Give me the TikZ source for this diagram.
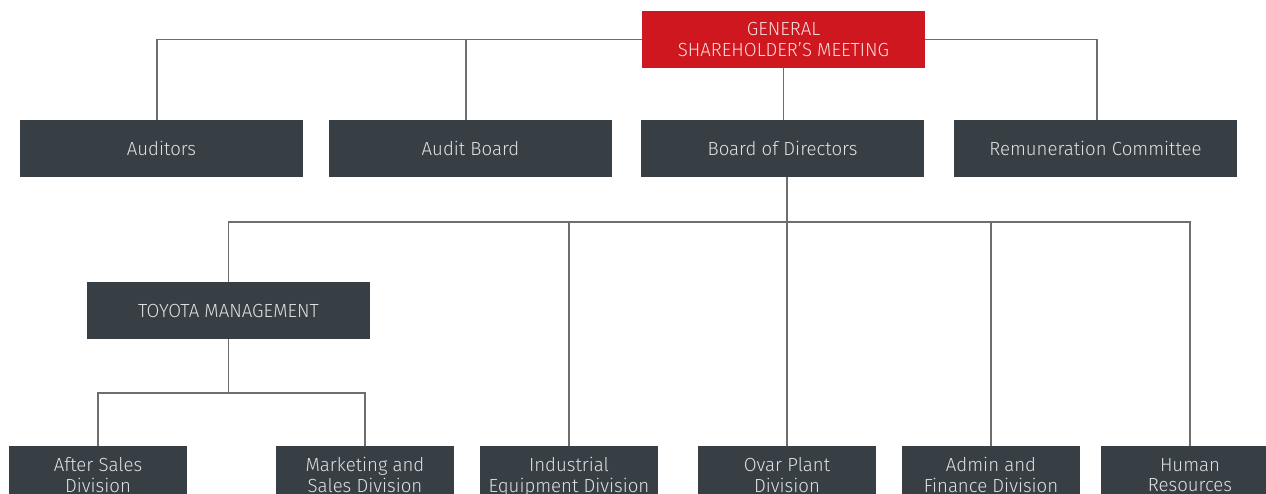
\documentclass[tikz,border=0pt]{standalone}
\usepackage{fontspec}
\setmainfont{Fira Sans}[UprightFont=* Light, FakeStretch=0.98]
\begin{document}
\definecolor{gsmred}{HTML}{CE171E}
\definecolor{boxgrey}{HTML}{373F45}
\definecolor{linegrey}{HTML}{6E6E6E}
\definecolor{boxtext}{HTML}{DDE1E3}
\definecolor{redtext}{HTML}{F8DCDC}
\begin{tikzpicture}[x=1pt,y=-1pt,
  orgbox/.style={fill=boxgrey,text=boxtext,inner sep=0pt,minimum width=283pt,minimum height=57pt,
    font=\fontsize{19}{19.5}\selectfont,align=center},
  divbox/.style={orgbox,minimum width=178pt,minimum height=56pt},
  topbox/.style={orgbox,fill=gsmred,text=redtext},
  link/.style={draw=linegrey,line width=1.7pt}]
\useasboundingbox (0,0) rectangle (1266,494);
\clip (0,0) rectangle (1266,494);

% governance level
\node[topbox] (gsm) at (783.5,39.5) {};
\node[text=redtext,font=\fontsize{19}{19.5}\selectfont,align=center,inner sep=0pt] (gsmlabel)
  at (783.5,42.5) {GENERAL\strut\\SHAREHOLDER'S MEETING\strut};
\node[orgbox] (aud) at (161.5,148.5) {Auditors};
\node[orgbox] (ab)  at (470.5,148.5) {Audit Board};
\node[orgbox] (bod) at (782.5,148.5) {Board of Directors};
\node[orgbox] (rem) at (1095.5,148.5) {Remuneration Committee};

% management and divisions
\node[orgbox] (tm) at (228.5,310.5) {TOYOTA MANAGEMENT};
\tikzset{divtext/.style={text=boxtext,font=\fontsize{19}{19.5}\selectfont,align=center,inner sep=0pt}}
\node[divbox] (as)  at (98,474)   {};
\node[divbox] (ms)  at (365,474)  {};
\node[divbox] (ind) at (569,474)  {};
\node[divbox] (ovp) at (787,474)  {};
\node[divbox] (adm) at (991,474)  {};
\node[divbox] (hr)  at (1190,474) {};
\node[divtext] (aslabel)  at (98,477.5)   {After Sales\strut\\Division\strut};
\node[divtext] (mslabel)  at (365,477.5)  {Marketing and\strut\\Sales Division\strut};
\node[divtext] (indlabel) at (569,477.5)  {Industrial\strut\\Equipment Division\strut};
\node[divtext] (ovplabel) at (787,477.5)  {Ovar Plant\strut\\Division\strut};
\node[divtext] (admlabel) at (991,477.5)  {Admin and\strut\\Finance Division\strut};
\node[divtext] (hrlabel)  at (1190,477.5) {Human\strut\\Resources\strut};

% bus lines
\coordinate (bus) at (0,222);
\coordinate (sub) at (0,393);

% connectors from the shareholders' meeting
\draw[link] (gsm.west) -| ([xshift=-4.5pt]aud.north);
\draw[link] ([xshift=-4.5pt]ab.north) -- ([xshift=-4.5pt]ab.north |- gsm.west);
\draw[link] (gsm.east) -| ([xshift=1.5pt]rem.north);
\draw[link] (gsm.south) -- (gsm.south |- bod.north);

% connectors from the board of directors
\draw[link] (ovp.north) -- (ovp.north |- bod.south);
\draw[link] (tm.north) |- (bus -| hr.north) -- (hr.north);
\draw[link] (ind.north) -- (ind.north |- bus);
\draw[link] (adm.north) -- (adm.north |- bus);

% connectors from Toyota management
\draw[link] (tm.south) -- (tm.south |- sub);
\draw[link] (as.north) |- (sub -| ms.north) -- (ms.north);
\end{tikzpicture}
\end{document}
